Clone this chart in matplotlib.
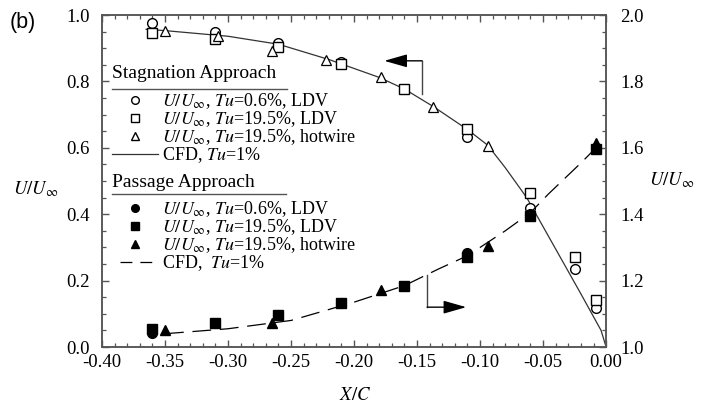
import matplotlib
matplotlib.use('Agg')
import matplotlib.pyplot as plt
from matplotlib.ticker import MultipleLocator, FormatStrFormatter
from matplotlib.lines import Line2D

plt.rcParams['font.family'] = 'serif'
plt.rcParams['font.serif'] = ['Liberation Serif', 'DejaVu Serif']
plt.rcParams['mathtext.fontset'] = 'stix'
plt.rcParams['axes.unicode_minus'] = False

# stagnation approach (left axis), open markers
stag_c_x = [-0.36, -0.31, -0.26, -0.21, -0.11, -0.06, -0.025, -0.008]
stag_c_y = [0.975, 0.950, 0.917, 0.859, 0.633, 0.418, 0.235, 0.118]
stag_s_x = [-0.36, -0.31, -0.26, -0.21, -0.16, -0.11, -0.06, -0.025, -0.008]
stag_s_y = [0.947, 0.928, 0.905, 0.851, 0.776, 0.657, 0.463, 0.272, 0.142]
stag_t_x = [-0.35, -0.308, -0.265, -0.222, -0.179, -0.137, -0.094]
stag_t_y = [0.952, 0.937, 0.892, 0.864, 0.812, 0.724, 0.606]
stag_cfd_x = [-0.365, -0.35, -0.30, -0.26, -0.22, -0.18, -0.16, -0.137, -0.11,
              -0.094, -0.08, -0.063, -0.04, -0.02, -0.004, 0.0]
stag_cfd_y = [0.957, 0.953, 0.936, 0.912, 0.866, 0.812, 0.777, 0.724, 0.655,
              0.608, 0.54, 0.45, 0.295, 0.16, 0.05, 0.0]

# passage approach (right axis), filled markers
pass_c_x = [-0.36, -0.31, -0.26, -0.21, -0.11, -0.06, -0.008]
pass_c_y = [1.041, 1.071, 1.096, 1.132, 1.284, 1.400, 1.600]
pass_s_x = [-0.36, -0.31, -0.26, -0.21, -0.16, -0.11, -0.06, -0.008]
pass_s_y = [1.053, 1.071, 1.096, 1.132, 1.184, 1.272, 1.395, 1.595]
pass_t_x = [-0.35, -0.265, -0.179, -0.094, -0.008]
pass_t_y = [1.051, 1.071, 1.172, 1.304, 1.615]
pass_cfd_x = [-0.35, -0.30, -0.25, -0.20, -0.16, -0.133, -0.11, -0.08, -0.06,
              -0.046, -0.019, -0.008]
pass_cfd_y = [1.04, 1.055, 1.08, 1.135, 1.185, 1.235, 1.275, 1.35, 1.405,
              1.46, 1.558, 1.60]

# pointer arrows: (corner x, corner y, end y, tip x)
arrow_left = (-0.146, 0.862, 0.762, -0.176)
arrow_right = (-0.142, 0.120, 0.217, -0.111)

lab_c06 = r'$U/U_{\infty}$, $Tu$=0.6%, LDV'
lab_s195 = r'$U/U_{\infty}$, $Tu$=19.5%, LDV'
lab_t195 = r'$U/U_{\infty}$, $Tu$=19.5%, hotwire'

fig = plt.figure(figsize=(7.15, 4.08), dpi=100)
ax = fig.add_axes([0.1427, 0.1495, 0.705, 0.8137])
ax2 = ax.twinx()

ms = 7
ax.plot(stag_cfd_x, stag_cfd_y, '-', color='#333333', lw=0.9, zorder=2)
ax.plot(stag_c_x, stag_c_y, 'o', ms=ms, mfc='white', mec='black', mew=1.0, zorder=3)
ax.plot(stag_s_x, stag_s_y, 's', ms=ms, mfc='white', mec='black', mew=1.0, zorder=3)
ax.plot(stag_t_x, stag_t_y, '^', ms=ms, mfc='white', mec='black', mew=0.9, zorder=3)

ax2.plot(pass_cfd_x, pass_cfd_y, '--', color='black', lw=0.9, dashes=(15, 7), zorder=2)
ax2.plot(pass_c_x, pass_c_y, 'o', ms=ms, color='black', zorder=3)
ax2.plot(pass_s_x, pass_s_y, 's', ms=ms, color='black', zorder=3)
ax2.plot(pass_t_x, pass_t_y, '^', ms=ms, color='black', zorder=3)

ax.set_xlim(-0.40, 0.0)
ax.set_ylim(0.0, 1.0)
ax2.set_ylim(1.0, 2.0)

spine_col = '#555555'
for a in (ax, ax2):
    for s in a.spines.values():
        s.set_color(spine_col)
        s.set_linewidth(1.1)

ax.xaxis.set_major_locator(MultipleLocator(0.05))
ax.xaxis.set_minor_locator(MultipleLocator(0.01))
ax.yaxis.set_major_locator(MultipleLocator(0.2))
ax.yaxis.set_minor_locator(MultipleLocator(0.05))
ax2.yaxis.set_major_locator(MultipleLocator(0.2))
ax2.yaxis.set_minor_locator(MultipleLocator(0.05))
ax.xaxis.set_major_formatter(FormatStrFormatter('%.2f'))
ax.yaxis.set_major_formatter(FormatStrFormatter('%.1f'))
ax2.yaxis.set_major_formatter(FormatStrFormatter('%.1f'))

ax.tick_params(which='both', direction='in', top=True, right=False, color=spine_col,
               labelsize=13.5)
ax.tick_params(which='major', length=5, width=1)
ax.tick_params(which='minor', length=3, width=0.9)
ax.tick_params(axis='x', pad=5)
ax.tick_params(axis='y', pad=9)
ax2.tick_params(which='both', direction='in', color=spine_col, labelsize=13.5, pad=10)
ax2.tick_params(which='major', length=5, width=1)
ax2.tick_params(which='minor', length=3, width=0.9)

ax.set_xlabel(r'$X/C$', fontsize=13.5)
ax.xaxis.set_label_coords(0.502, -0.12)
ax.text(-0.131, 0.474, r'$U/U_{\infty}$', transform=ax.transAxes, fontsize=13.5,
        ha='center', va='center')
ax.text(1.131, 0.503, r'$U/U_{\infty}$', transform=ax.transAxes, fontsize=13.5,
        ha='center', va='center')

fig.text(0.014, 0.945, '(b)', family='Liberation Sans', fontsize=15.5, va='center')

# arrows
cx, cy, ey, tx = arrow_left
ax.plot([cx, cx], [cy, ey], color='#444444', lw=1)
ax.annotate('', xy=(tx, cy), xytext=(cx, cy),
            arrowprops=dict(arrowstyle='-|>,head_length=1.4,head_width=0.4',
                            color='black', lw=1, shrinkA=0, shrinkB=0))
cx, cy, ey, tx = arrow_right
ax.plot([cx, cx], [cy, ey], color='#444444', lw=1)
ax.annotate('', xy=(tx, cy), xytext=(cx, cy),
            arrowprops=dict(arrowstyle='-|>,head_length=1.4,head_width=0.4',
                            color='black', lw=1, shrinkA=0, shrinkB=0))

# legends
ax2.text(0.02, 0.825, 'Stagnation Approach', transform=ax.transAxes, fontsize=14,
         va='center', ha='left')
ax2.add_line(Line2D([0.02, 0.367], [0.778, 0.778], transform=ax.transAxes,
                    color='#555555', lw=1))
ax2.text(0.02, 0.497, 'Passage Approach', transform=ax.transAxes, fontsize=14,
         va='center', ha='left')
ax2.add_line(Line2D([0.02, 0.365], [0.462, 0.462], transform=ax.transAxes,
                    color='#555555', lw=1))

lm = 5.5
hs = [Line2D([], [], ls='none', marker='o', ms=lm, mfc='white', mec='black'),
      Line2D([], [], ls='none', marker='s', ms=lm, mfc='white', mec='black'),
      Line2D([], [], ls='none', marker='^', ms=lm, mfc='white', mec='black'),
      Line2D([], [], ls='-', color='#333333', lw=0.9)]
leg1 = ax2.legend(hs, [lab_c06, lab_s195, lab_t195, r'CFD, $Tu$=1%'],
                  loc='upper left', bbox_to_anchor=(0.02, 0.77), frameon=False,
                  fontsize=13, handlelength=2.55, handletextpad=0.22,
                  labelspacing=-0.1, borderpad=0.0, borderaxespad=0.0)
ax2.add_artist(leg1)
hp = [Line2D([], [], ls='none', marker='o', ms=lm, color='black'),
      Line2D([], [], ls='none', marker='s', ms=lm, color='black'),
      Line2D([], [], ls='none', marker='^', ms=lm, color='black'),
      Line2D([], [], ls=(9.5, (9.5, 6.4)), color='black', lw=0.9)]
ax2.legend(hp, [lab_c06, lab_s195, lab_t195, r'CFD,  $Tu$=1%'],
           loc='upper left', bbox_to_anchor=(0.02, 0.445), frameon=False,
           fontsize=13, handlelength=2.55, handletextpad=0.22,
           labelspacing=-0.1, borderpad=0.0, borderaxespad=0.0)

fig.savefig('out.png', dpi=100)
